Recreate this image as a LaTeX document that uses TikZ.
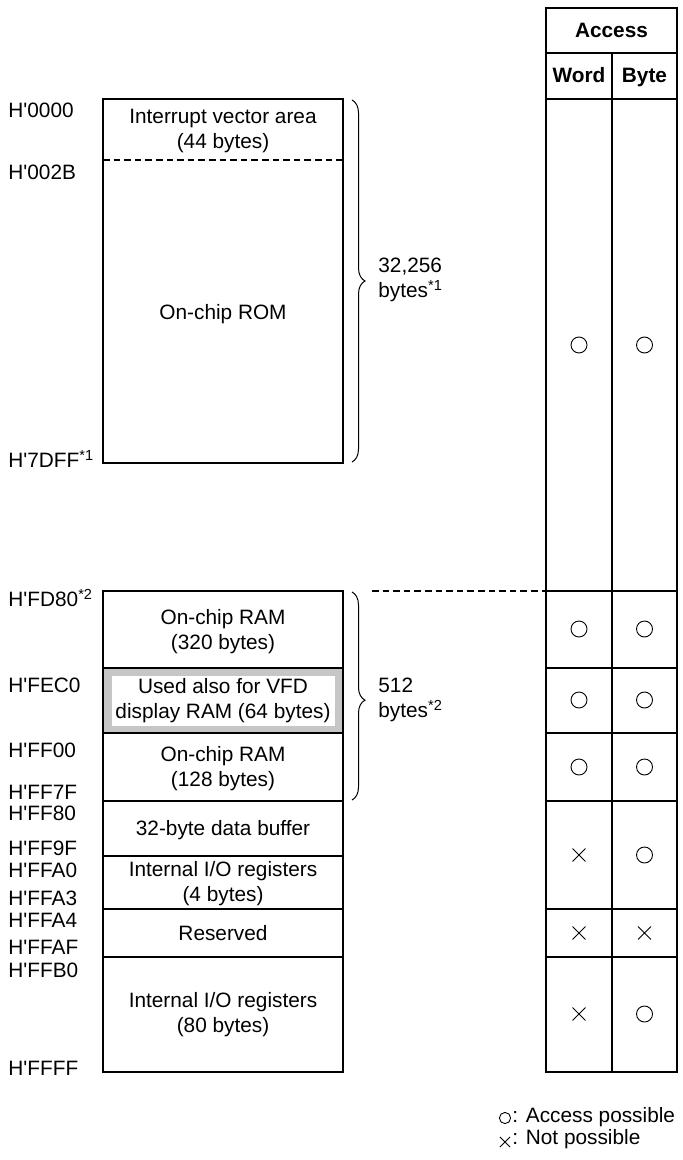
\documentclass[tikz,border=0pt]{standalone}
\usepackage{fontspec}
\setmainfont{Liberation Sans}
\usetikzlibrary{decorations.pathreplacing,shapes.misc}
\newcommand\hex{H\textquotesingle}
\begin{document}
\begin{tikzpicture}[x=0.5pt,y=-0.5pt,font=\fontsize{10.4}{12.5}\selectfont,
  outline/.style={line width=0.9pt},
  thin line/.style={line width=0.55pt},
  addr/.style={anchor=west,inner sep=0pt},
  area/.style={align=center,inner sep=0pt},
  head/.style={anchor=base,inner sep=0pt,font=\fontsize{10.4}{12.5}\selectfont\bfseries},
  okmark/.style={circle,draw,line width=0.45pt,minimum size=8pt,inner sep=0pt},
  nomark/.style={cross out,draw,line width=0.45pt,minimum size=6pt,inner sep=0pt},
  curly/.style={decorate,decoration={brace,amplitude=6.5pt},line width=0.5pt}]
\useasboundingbox (0,0) rectangle (682,1160);

% memory map
\draw[outline] (103,99) rectangle (343,463);
\draw[thin line,dash pattern=on 3.3pt off 2pt] (103,160) -- (343,160);
\fill[gray!45] (103,668) rectangle (343,733);
\fill[white] (112,676) rectangle (335,726);
\draw[thin line] (103,668) -- (343,668);
\draw[thin line] (103,733) -- (343,733);
\draw[thin line] (103,801) -- (343,801);
\draw[thin line] (103,856) -- (343,856);
\draw[thin line] (103,909) -- (343,909);
\draw[thin line] (103,957) -- (343,957);
\draw[outline] (103,591) rectangle (343,1072);

\node[area] (ivec) at (223,131) {Interrupt vector area\\(44 bytes)};
\node[area] (rom) at (223,314) {On-chip ROM};
\node[area] (ram1) at (223,632) {On-chip RAM\\(320 bytes)};
\node[area] (vfd) at (223,701) {Used also for VFD\\display RAM (64 bytes)};
\node[area] (ram2) at (223,769) {On-chip RAM\\(128 bytes)};
\node[area] (dbuf) at (223,830) {32-byte data buffer};
\node[area] (io4) at (223,884) {Internal I/O registers\\(4 bytes)};
\node[area] (resv) at (223,933) {Reserved};
\node[area] (io80) at (223,1015) {Internal I/O registers\\(80 bytes)};

% addresses
\node[addr] (a0000) at (8,110) {\hex 0000};
\node[addr] (a002b) at (8,172) {\hex 002B};
\node[addr] (a7dff) at (8,459) {\hex 7DFF\textsuperscript{*1}};
\node[addr] (afd80) at (8,598) {\hex FD80\textsuperscript{*2}};
\node[addr] (afec0) at (8,685) {\hex FEC0};
\node[addr] (aff00) at (8,750) {\hex FF00};
\node[addr] (aff7f) at (8,792) {\hex FF7F};
\node[addr] (aff80) at (8,813) {\hex FF80};
\node[addr] (aff9f) at (8,848) {\hex FF9F};
\node[addr] (affa0) at (8,870) {\hex FFA0};
\node[addr] (affa3) at (8,898) {\hex FFA3};
\node[addr] (affa4) at (8,920) {\hex FFA4};
\node[addr] (affaf) at (8,947) {\hex FFAF};
\node[addr] (affb0) at (8,970) {\hex FFB0};
\node[addr] (affff) at (8,1068) {\hex FFFF};

% sizes
\coordinate (romtop) at (352,100);
\coordinate (rombot) at (352,462);
\draw[curly] (romtop) -- (rombot);
\node[area,anchor=west,align=left] (romsize) at (378,280) {32,256\\bytes\textsuperscript{*1}};
\coordinate (ramtop) at (352,592);
\coordinate (rambot) at (352,800);
\draw[curly,decoration={aspect=0.52}] (ramtop) -- (rambot);
\node[area,anchor=west,align=left] (ramsize) at (378,700) {512\\bytes\textsuperscript{*2}};
\coordinate (dashend) at (546,591);
\draw[thin line,dash pattern=on 3.3pt off 2pt] (372,591) -- (dashend);

% access table
\draw[thin line] (546,53) -- (677,53);
\draw[thin line] (612,53) -- (612,1072);
\foreach \y in {99,591,668,733,801,909,957}
  \draw[thin line] (546,\y) -- (677,\y);
\draw[outline] (546,8) rectangle (677,1072);
\node[head] (access) at (611.5,38) {Access};
\node[head] (word) at (579,83) {Word};
\node[head] (byte) at (644.5,83) {Byte};

\node[okmark] (w1) at (579,345) {};
\node[okmark] (b1) at (644.5,345) {};
\node[okmark] (w2) at (579,629) {};
\node[okmark] (b2) at (644.5,629) {};
\node[okmark] (w3) at (579,700) {};
\node[okmark] (b3) at (644.5,700) {};
\node[okmark] (w4) at (579,767) {};
\node[okmark] (b4) at (644.5,767) {};
\node[nomark] (w5) at (579,855) {};
\node[okmark] (b5) at (644.5,855) {};
\node[nomark] (w6) at (579,933) {};
\node[nomark] (b6) at (644.5,933) {};
\node[nomark] (w7) at (579,1014) {};
\node[okmark] (b7) at (644.5,1014) {};

% legend
\node[okmark,minimum size=5.6pt] (lgok) at (505,1118) {};
\node[addr] (lgoktext) at (512,1117) {: Access possible};
\node[nomark,minimum size=4.6pt] (lgno) at (505,1142) {};
\node[addr] (lgnotext) at (512,1139) {: Not possible};
\end{tikzpicture}
\end{document}
